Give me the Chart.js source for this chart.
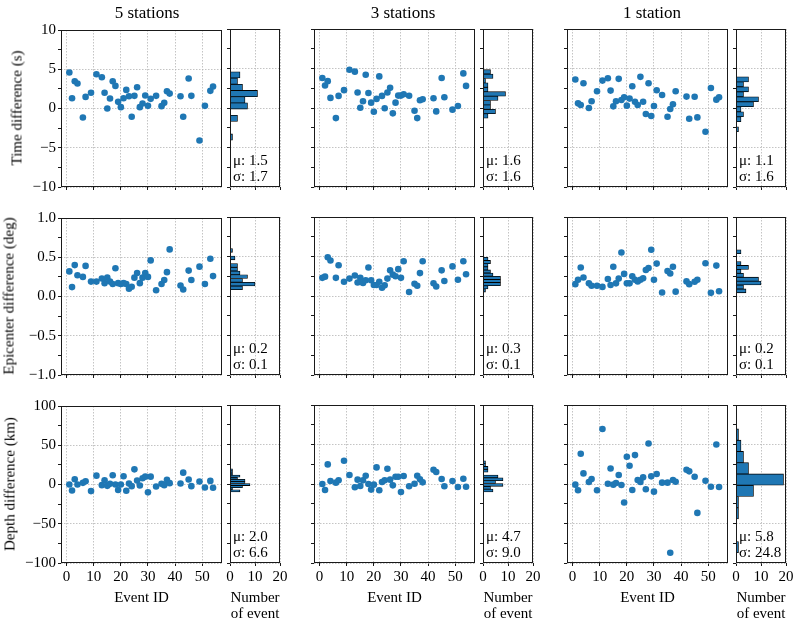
<!DOCTYPE html>
<html>
<head>
<meta charset="utf-8">
<script src="https://cdn.jsdelivr.net/npm/chart.js@4.4.1/dist/chart.umd.min.js"></script>
<style>
  body { margin: 0; background: #fff; }
  #fig { position: relative; width: 796px; height: 620px; overflow: hidden;
         font-family: "Liberation Serif", "Times New Roman", serif; color: #000; }
  #fig canvas { position: absolute; }
  .txt { position: absolute; white-space: nowrap; line-height: 1; transform: translate(-50%, -50%); }
</style>
</head>
<body>
<div id="fig"></div>
<script>
// ---- data ----
const stationTitles = ['5 stations', '3 stations', '1 station'];
const rowLabels = ['Time difference (s)', 'Epicenter difference (deg)', 'Depth difference (km)'];

const eventIds = [1, 2, 3, 4, 6, 7, 9, 11, 13, 14, 15, 16, 17, 18, 19, 20, 21, 22, 23, 24,
                  25, 26, 27, 28, 29, 30, 31, 33, 35, 36, 37, 38, 42, 43, 45, 46, 49, 51, 53, 54];

const time5 = [4.58, 1.30, 3.47, 3.18, -1.14, 1.48, 2.00, 4.36, 3.98, 2.00, 0.00, 1.27, 3.47, 2.88, 0.85, 0.17, 1.31, 2.37, 1.57, -1.06,
               1.61, 2.71, 0.17, 0.64, 1.65, 0.34, 1.23, 1.61, 0.30, 0.72, 2.20, 1.90, 1.57, -1.06, 3.82, 1.61, -4.07, 0.34, 2.25, 2.80];
const time3 = [3.79, 2.85, 3.40, 1.28, -1.28, 1.53, 2.26, 4.85, 4.60, 1.96, 0.04, 0.85, 4.20, 1.90, 0.68, -0.47, 1.15, 4.00, 1.53, -0.04,
               1.96, 2.55, -0.68, 0.68, 1.57, 1.57, 1.74, 1.55, -0.34, -1.28, 0.98, 1.10, 1.23, -0.43, 3.79, 1.36, -0.21, 0.26, 4.38, 2.80];
const time1 = [3.60, 0.59, 0.38, 3.14, 0.00, 0.85, 2.12, 3.47, 3.77, 2.20, 0.21, 0.85, 3.69, 1.02, 1.36, 0.30, 1.19, 2.75, 0.80, 0.38,
               3.94, 0.80, -0.76, 3.14, -1.02, 0.25, 2.25, 1.65, -1.10, -0.13, 0.47, 2.12, 1.44, -1.36, 1.42, -1.19, -3.00, 2.54, 1.06, 1.36];

const epi5 = [0.32, 0.12, 0.40, 0.27, 0.25, 0.39, 0.19, 0.19, 0.23, 0.17, 0.24, 0.19, 0.16, 0.36, 0.17, 0.16, 0.17, 0.16, 0.10, 0.125,
              0.24, 0.30, 0.17, 0.24, 0.30, 0.25, 0.46, 0.08, 0.16, 0.21, 0.31, 0.60, 0.14, 0.09, 0.33, 0.21, 0.38, 0.16, 0.48, 0.26];
const epi3 = [0.23, 0.245, 0.49, 0.45, 0.23, 0.39, 0.18, 0.22, 0.26, 0.17, 0.23, 0.165, 0.20, 0.36, 0.20, 0.14, 0.14, 0.18, 0.105, 0.135,
              0.22, 0.325, 0.27, 0.25, 0.34, 0.23, 0.44, 0.05, 0.155, 0.13, 0.29, 0.44, 0.16, 0.12, 0.325, 0.19, 0.375, 0.205, 0.44, 0.275];
const epi1 = [0.15, 0.205, 0.36, 0.235, 0.16, 0.13, 0.13, 0.115, 0.215, 0.14, 0.37, 0.16, 0.22, 0.55, 0.28, 0.16, 0.16, 0.25, 0.205, 0.185,
              0.205, 0.225, 0.33, 0.355, 0.585, 0.205, 0.41, 0.045, 0.315, 0.285, 0.37, 0.055, 0.185, 0.15, 0.18, 0.205, 0.415, 0.04, 0.385, 0.06];

const depth5 = [0, -7.6, 6.7, 0, 2.1, 4.2, -8.4, 11.3, -0.8, 5.5, -1.7, 0.8, 11.8, 0, -7.1, 0, 10.5, -8, 1.3, -2.1,
                19.3, 5, -1.3, 8, 10, -10, 10, -2.5, 0.8, -0.8, 5.9, 1.7, 1.3, 15.1, 6.3, -2.1, 3.8, -3.8, 4.6, -4.2];
const depth3 = [0, -7.6, 24.8, 3.8, 1.7, 4.6, 29.4, 11.3, -4.2, 5.5, -2.5, 4.6, 10.5, 0, -7.1, -0.8, 21, -8, 2.5, 4.6,
                19.3, 5.5, -1.7, 9.2, 9.2, -10.1, 10.1, -2.9, 0.4, 10.5, 5.9, 2.1, 18, 15.1, 6.3, -2.9, 3.8, -3.8, 6.7, -3.4];
const depth1 = [-0.8, -8, 38.2, 13.4, 2.5, 6.3, -8, 69.7, 0.4, 19.7, -0.8, 1.3, 11.3, -1.3, -23.5, 34.5, 23.1, -7.6, 36.6, 5,
                2.5, 8.4, -6.7, 51.3, 9.7, -9.7, 12.6, 1.7, 1.7, -87, 5, 2.9, 18, 16, 9.2, -36.6, 4.2, -3.4, 50, -3.8];

// histogram: 11 bins spanning [lo, hi], counts from bottom to top
const time5Range = [-4.07, 4.58],  time5Counts = [1, 0, 0, 3, 0, 7, 6, 11, 5, 3, 4];
const time3Range = [-1.28, 4.85],  time3Counts = [2, 5, 3, 3, 6, 9, 2, 2, 1, 4, 3];
const time1Range = [-3.00, 3.94],  time1Counts = [1, 0, 2, 3, 2, 7, 9, 3, 5, 3, 5];
const epi5Range = [0.08, 0.60],    epi5Counts = [5, 10, 5, 7, 4, 3, 3, 0, 2, 0, 1];
const epi3Range = [0.05, 0.49],    epi3Counts = [1, 2, 7, 7, 7, 4, 3, 2, 2, 3, 2];
const epi1Range = [0.04, 0.585],   epi1Counts = [4, 3, 10, 9, 3, 2, 5, 2, 0, 0, 2];
const depth5Range = [-10, 19.3],   depth5Counts = [4, 1, 5, 8, 6, 6, 3, 4, 1, 1, 1];
const depth3Range = [-10.1, 29.4], depth3Counts = [4, 3, 8, 5, 8, 6, 0, 2, 2, 1, 1];
const depth1Range = [-87, 69.7],   depth1Counts = [1, 0, 0, 1, 1, 7, 19, 5, 3, 2, 1];

const muLabels    = ['1.5', '1.6', '1.1', '0.2', '0.3', '0.2', '2.0', '4.7', '5.8'];
const sigmaLabels = ['1.7', '1.6', '1.6', '0.1', '0.1', '0.1', '6.6', '9.0', '24.8'];

// ---- layout ----
const BLUE = '#1f77b4', GRID = '#b5b5b5', INK = '#1a1a1a';
const colLeft = [61, 314, 567], rowTop = [29, 217, 405];
const SW = 161, SH = 158, GAP = 8, HW = 50;
const PAD_T = 10, PAD_R = 12, PAD_B = 28;

const rowAxes = [
  { min: -10, max: 10, major: 5, step: 2.5, digits: 0 },
  { min: -1, max: 1, major: 0.5, step: 0.25, digits: 1 },
  { min: -100, max: 100, major: 50, step: 25, digits: 0 }
];
const eventAxis = { min: -2.07, max: 57.3, major: 10, step: 10, first: 0, last: 50, digits: 0 };
const countAxis = { min: 0, max: 20, major: 10, step: 10, first: 0, last: 20, digits: 0 };

const panels = [
  [time5, time5Range, time5Counts], [time3, time3Range, time3Counts], [time1, time1Range, time1Counts],
  [epi5, epi5Range, epi5Counts],    [epi3, epi3Range, epi3Counts],    [epi1, epi1Range, epi1Counts],
  [depth5, depth5Range, depth5Counts], [depth3, depth3Range, depth3Counts], [depth1, depth1Range, depth1Counts]
];

Chart.defaults.font.family = '"Liberation Serif", "Times New Roman", serif';
Chart.defaults.font.size = 15;
Chart.defaults.color = '#000';

const fig = document.getElementById('fig');

function tickList(a0, a1, step) {
  const out = [];
  const n = Math.round((a1 - a0) / step);
  for (let i = 0; i <= n; i++) out.push(+(a0 + i * step).toFixed(6));
  return out;
}
const isMajor = (v, m) => Math.abs(v / m - Math.round(v / m)) < 1e-6;
const fmt = (v, d) => v.toFixed(d).replace('-', '\u2212');

function axis(o, vertical, size, showLabels) {
  const ticks = tickList(o.first !== undefined ? o.first : o.min, o.last !== undefined ? o.last : o.max, o.step);
  return {
    type: 'linear', min: o.min, max: o.max, offset: false,
    afterBuildTicks: s => { s.ticks = ticks.map(v => ({ value: v })); },
    afterFit: s => { if (vertical) s.width = size; else s.height = size; },
    ticks: {
      display: showLabels, autoSkip: false, maxRotation: 0, padding: 2,
      callback: v => isMajor(v, o.major) ? fmt(v, o.digits) : ''
    },
    grid: {
      offset: false, lineWidth: 0.8,
      color: c => (c.tick && !isMajor(c.tick.value, o.major)) ? 'rgba(0,0,0,0)' : GRID,
      tickLength: 3, tickColor: INK, tickWidth: 1, tickBorderDash: []
    },
    border: { display: false, dash: [1.5, 1.5] }
  };
}

const framePlugin = {
  id: 'frame',
  afterDraw(chart) {
    const { ctx, chartArea: a } = chart;
    ctx.save();
    ctx.strokeStyle = INK;
    ctx.lineWidth = 1;
    ctx.strokeRect(Math.round(a.left) + 0.5, Math.round(a.top) + 0.5,
                   Math.round(a.right - a.left) - 1, Math.round(a.bottom - a.top) - 1);
    ctx.restore();
  }
};

function statsPlugin(mu, sigma) {
  return {
    id: 'stats',
    afterDraw(chart) {
      const { ctx, chartArea: a } = chart;
      ctx.save();
      ctx.font = '15px "Liberation Serif", "Times New Roman", serif';
      ctx.fillStyle = '#000';
      ctx.textAlign = 'left';
      ctx.textBaseline = 'alphabetic';
      ctx.fillText('\u03bc: ' + mu, a.left + 3, a.bottom - 22);
      ctx.fillText('\u03c3: ' + sigma, a.left + 3, a.bottom - 6);
      ctx.restore();
    }
  };
}

function makeCanvas(left, top, w, h, padL) {
  const c = document.createElement('canvas');
  c.width = w + padL + PAD_R;
  c.height = h + PAD_T + PAD_B;
  c.style.left = (left - padL) + 'px';
  c.style.top = (top - PAD_T) + 'px';
  c.style.width = c.width + 'px';
  c.style.height = c.height + 'px';
  fig.appendChild(c);
  return c;
}

function addText(str, x, y, size, rotate) {
  const d = document.createElement('div');
  d.className = 'txt';
  d.textContent = str;
  d.style.left = x + 'px';
  d.style.top = y + 'px';
  d.style.fontSize = size + 'px';
  if (rotate) d.style.transform = 'translate(-50%, -50%) rotate(-90deg)';
  fig.appendChild(d);
}

const common = {
  animation: false, responsive: false, events: [],
  layout: { padding: { top: PAD_T, right: PAD_R, left: 0, bottom: 0 } },
  plugins: { legend: { display: false }, tooltip: { enabled: false } }
};

for (let r = 0; r < 3; r++) {
  for (let c = 0; c < 3; c++) {
    const k = r * 3 + c;
    const [values, range, counts] = panels[k];
    const bottomRow = r === 2;
    const sx = colLeft[c], top = rowTop[r];
    const padL = c === 0 ? 44 : 8;

    // scatter of differences per event
    new Chart(makeCanvas(sx, top, SW, SH, padL), {
      type: 'scatter',
      data: {
        datasets: [{
          data: eventIds.map((id, i) => ({ x: id, y: values[i] })),
          backgroundColor: BLUE, borderWidth: 0, pointRadius: 3.3, pointHoverRadius: 3.3
        }]
      },
      options: Object.assign({}, common, {
        scales: {
          x: axis(eventAxis, false, PAD_B, bottomRow),
          y: axis(rowAxes[r], true, padL, c === 0)
        }
      }),
      plugins: [framePlugin]
    });

    // horizontal histogram
    const hx = sx + SW + GAP;
    const w = (range[1] - range[0]) / counts.length;
    new Chart(makeCanvas(hx, top, HW, SH, 8), {
      type: 'bar',
      data: {
        datasets: [{
          data: counts.map((n, i) => ({ x: n, y: range[0] + (i + 0.5) * w })),
          backgroundColor: BLUE, borderColor: '#000',
          borderWidth: ctx => (ctx.raw && ctx.raw.x > 0) ? 0.8 : 0,
          borderSkipped: false, barPercentage: 1, categoryPercentage: 1, grouped: false
        }]
      },
      options: Object.assign({}, common, {
        indexAxis: 'y',
        scales: {
          x: axis(countAxis, false, PAD_B, bottomRow),
          y: axis(rowAxes[r], true, 8, false)
        }
      }),
      plugins: [framePlugin, statsPlugin(muLabels[k], sigmaLabels[k])]
    });

    if (bottomRow) {
      addText('Event ID', sx + SW / 2, 597, 15);
      addText('Number', hx + HW / 2, 597, 15);
      addText('of event', hx + HW / 2, 613, 15);
    }
  }
  addText(rowLabels[r], [17, 9, 10][r], rowTop[r] + SH / 2, 15, true);
}

const titleX = [147, 403, 652];
stationTitles.forEach((t, c) => addText(t, titleX[c], 12, 17));
</script>
</body>
</html>
